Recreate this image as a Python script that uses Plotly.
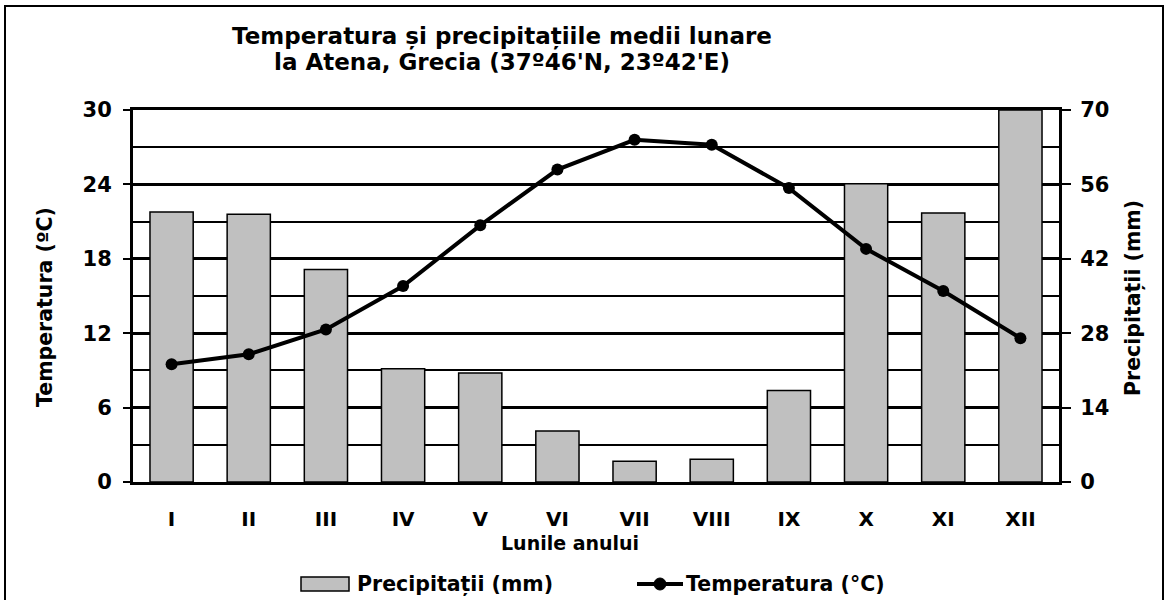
import plotly.graph_objects as go

months = ["I", "II", "III", "IV", "V", "VI", "VII", "VIII", "IX", "X", "XI", "XII"]
precip_mm = [50.8, 50.4, 40.0, 21.3, 20.5, 9.6, 3.9, 4.3, 17.2, 56.1, 50.6, 70.0]
temp_c = [9.5, 10.3, 12.3, 15.8, 20.7, 25.2, 27.6, 27.2, 23.7, 18.8, 15.4, 11.6]
temp_ticks = [0, 6, 12, 18, 24, 30]
precip_ticks = [0, 14, 28, 42, 56, 70]

FONT = "DejaVu Sans, Arial, sans-serif"
W, H = 1169, 600
L, R, T, B = 133, 1059, 110, 482
pw, ph = R - L, B - T


def px(x):
    return (x - L) / pw


def py(y):
    return (B - y) / ph


fig = go.Figure()
fig.add_trace(go.Bar(
    x=months, y=precip_mm, name="Precipitații (mm)", yaxis="y",
    marker=dict(color="#c0c0c0", line=dict(color="black", width=1.5)),
    width=0.56, showlegend=False,
))
fig.add_trace(go.Scatter(
    x=months, y=temp_c, name="Temperatura (°C)", yaxis="y2",
    mode="lines+markers", line=dict(color="black", width=4),
    marker=dict(color="black", size=12), showlegend=False,
))

ytick_font = dict(family=FONT, size=21, color="black", weight="bold")
xtick_font = dict(family=FONT, size=20, color="black", weight="bold")

fig.update_layout(
    width=W, height=H,
    margin=dict(l=L, r=W - R, t=T, b=H - B, pad=0),
    paper_bgcolor="white", plot_bgcolor="white",
    xaxis=dict(
        type="category", range=[-0.5, len(months) - 0.5],
        showline=True, linecolor="black", linewidth=3,
        mirror=True, ticks="", showgrid=False, tickfont=xtick_font,
        ticklabelstandoff=17,
    ),
    yaxis=dict(
        side="right", range=[0, 70], tickvals=precip_ticks,
        ticks="outside", ticklen=9, tickwidth=2, tickcolor="black",
        showline=True, linecolor="black", linewidth=3,
        showgrid=True, gridcolor="black", gridwidth=3, zeroline=False,
        minor=dict(dtick=7, tick0=0, showgrid=True, gridcolor="black", gridwidth=1.5, ticks=""),
        tickfont=ytick_font, ticklabelstandoff=5,
    ),
    yaxis2=dict(
        side="left", overlaying="y", range=[0, 30], tickvals=temp_ticks,
        ticks="outside", ticklen=7, tickwidth=2, tickcolor="black",
        showline=True, linecolor="black", linewidth=3,
        showgrid=False, zeroline=False, tickfont=ytick_font,
        ticklabelstandoff=7,
    ),
)

ann_font = dict(family=FONT, size=20.5, color="black", weight="bold")
xt_font = dict(family=FONT, size=19, color="black", weight="bold")
title_font = dict(family=FONT, size=23, color="black", weight="bold")
annotations = [
    dict(text="Temperatura și precipitațiile medii lunare", x=px(502), y=py(37),
         font=title_font),
    dict(text="la Atena, Grecia (37º46'N, 23º42'E)", x=px(502), y=py(62),
         font=title_font),
    dict(text="Temperatura (ºC)", x=px(45), y=py(307), textangle=-90, font=ann_font),
    dict(text="Precipitații (mm)", x=px(1133), y=py(298), textangle=-90, font=ann_font),
    dict(text="Lunile anului", x=px(570), y=py(543), font=xt_font),
    dict(text="Precipitații (mm)", x=px(355), y=py(584), xanchor="left", font=ann_font),
    dict(text="Temperatura (°C)", x=px(684), y=py(584), xanchor="left", font=ann_font),
]
for a in annotations:
    a.setdefault("xanchor", "center")
    a.update(xref="paper", yref="paper", yanchor="middle", showarrow=False)
fig.update_layout(annotations=annotations)

shapes = [
    # outer frame
    dict(type="rect", xref="paper", yref="paper", x0=px(5), x1=px(1163), y0=py(640), y1=py(6),
         line=dict(color="black", width=2), fillcolor="rgba(0,0,0,0)", layer="below"),
    # legend swatch: bars
    dict(type="rect", xref="paper", yref="paper", x0=px(301), x1=px(349), y0=py(591), y1=py(577),
         line=dict(color="black", width=1.5), fillcolor="#c0c0c0"),
    # legend swatch: line
    dict(type="line", xref="paper", yref="paper", x0=px(637), x1=px(683), y0=py(584), y1=py(584),
         line=dict(color="black", width=4)),
    dict(type="circle", xref="paper", yref="paper", x0=px(654), x1=px(666), y0=py(590), y1=py(578),
         line=dict(color="black", width=1), fillcolor="black"),
]
fig.update_layout(shapes=shapes)

fig.write_html(
    "out.html",
    config={"displayModeBar": False},
    post_script="document.body.style.margin='0px';document.body.style.overflow='hidden';",
)
